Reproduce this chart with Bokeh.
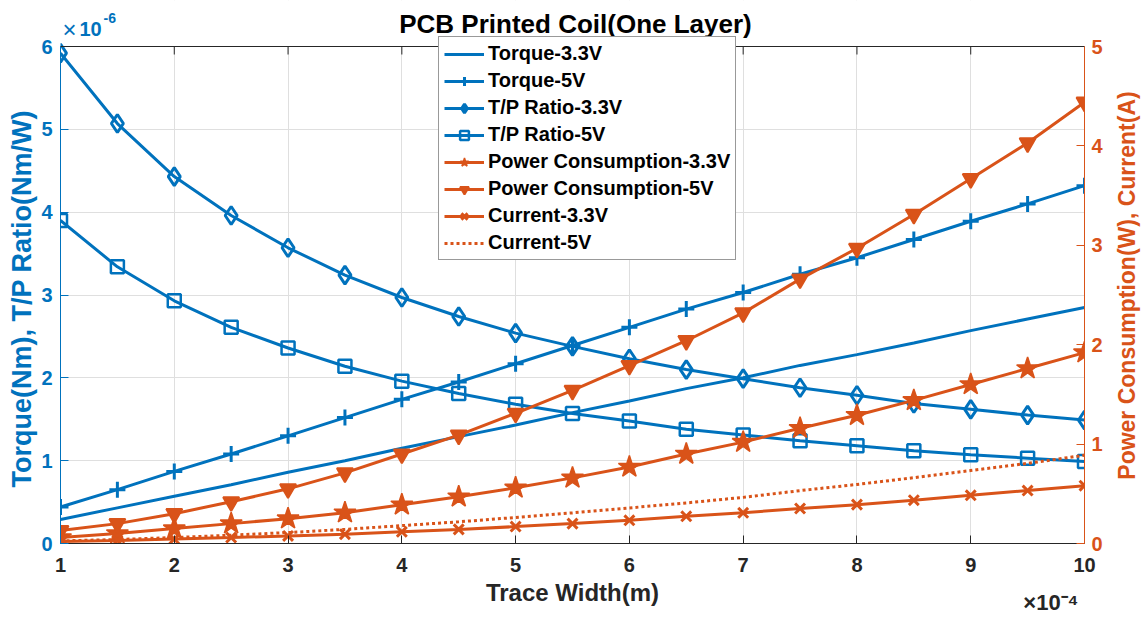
import math
from bokeh.plotting import figure
from bokeh.models import (Range1d, LinearAxis, Label, FixedTicker, Legend, LegendItem, ColumnDataSource,
                          Span, BoxAnnotation, Title)
from bokeh.embed import file_html
from bokeh.resources import INLINE

# Trace width (x 1e-4 m)
trace_width = [1.0, 1.5, 2.0, 2.5, 3.0, 3.5, 4.0, 4.5, 5.0, 5.5, 6.0, 6.5, 7.0, 7.5, 8.0, 8.5, 9.0, 9.5, 10.0]
# Left axis series (x 1e-6)
torque_33 = [0.29, 0.43, 0.57, 0.71, 0.86, 1.00, 1.15, 1.29, 1.43, 1.58, 1.72, 1.87, 2.00, 2.15, 2.28, 2.42, 2.57, 2.71, 2.85]
torque_5 = [0.44, 0.65, 0.87, 1.08, 1.30, 1.52, 1.74, 1.95, 2.17, 2.39, 2.61, 2.83, 3.03, 3.25, 3.45, 3.67, 3.89, 4.10, 4.32]
tp_ratio_33 = [5.92, 5.07, 4.43, 3.96, 3.57, 3.24, 2.97, 2.74, 2.54, 2.38, 2.23, 2.10, 1.99, 1.88, 1.79, 1.69, 1.62, 1.55, 1.49]
tp_ratio_5 = [3.90, 3.34, 2.93, 2.61, 2.36, 2.14, 1.96, 1.81, 1.68, 1.57, 1.48, 1.38, 1.31, 1.24, 1.18, 1.12, 1.07, 1.03, 0.99]
# Right axis series (W, A)
power_33 = [0.06, 0.10, 0.15, 0.20, 0.25, 0.31, 0.39, 0.47, 0.56, 0.66, 0.77, 0.90, 1.02, 1.16, 1.29, 1.44, 1.60, 1.76, 1.92]
power_5 = [0.13, 0.20, 0.30, 0.42, 0.55, 0.71, 0.90, 1.09, 1.31, 1.54, 1.79, 2.04, 2.32, 2.66, 2.97, 3.31, 3.67, 4.03, 4.44]
current_33 = [0.02, 0.03, 0.045, 0.06, 0.076, 0.094, 0.118, 0.142, 0.17, 0.20, 0.233, 0.273, 0.309, 0.352, 0.391, 0.436, 0.485, 0.533, 0.582]
current_5 = [0.026, 0.04, 0.06, 0.084, 0.11, 0.142, 0.18, 0.218, 0.262, 0.308, 0.358, 0.408, 0.464, 0.532, 0.594, 0.662, 0.734, 0.806, 0.888]

x_ticks = [1, 2, 3, 4, 5, 6, 7, 8, 9, 10]
left_ticks = [0, 1, 2, 3, 4, 5, 6]
right_ticks = [0, 1, 2, 3, 4, 5]
LEFT_MAX = 6
RIGHT_MAX = 5

BLUE = "#0072BD"
ORANGE = "#D95319"
DARK = "#262626"
FONT = "Liberation Sans"

# layout: frame spans from canvas top to axis bottom; data area starts TOP_PAD px below frame top
W, H = 1142, 618
BORDER_L, BORDER_R, BORDER_B = 60, 58, 75
TOP_PAD = 46
frame_h = H - BORDER_B
data_h = frame_h - TOP_PAD
left_end = LEFT_MAX * frame_h / data_h
right_end = RIGHT_MAX * frame_h / data_h

src = ColumnDataSource(dict(x=trace_width, t33=torque_33, t5=torque_5, r33=tp_ratio_33, r5=tp_ratio_5,
                            p33=power_33, p5=power_5, c33=current_33, c5=current_5))

p = figure(width=W, height=H, output_backend="svg", toolbar_location=None,
           x_range=Range1d(1, 10), y_range=Range1d(0, left_end),
           min_border_left=BORDER_L, min_border_right=BORDER_R, min_border_top=0, min_border_bottom=BORDER_B,
           background_fill_color="white", border_fill_color="white")
p.outline_line_color = None
p.extra_y_ranges = {"right": Range1d(0, right_end)}

# grid
p.xgrid.ticker = FixedTicker(ticks=x_ticks)
p.ygrid.ticker = FixedTicker(ticks=left_ticks)
p.xgrid.grid_line_color = "#dfdfdf"
p.ygrid.grid_line_color = "#dfdfdf"
# blank out the area above the axes box
p.add_layout(BoxAnnotation(bottom=LEFT_MAX, fill_color="white", fill_alpha=1, line_alpha=0, level="underlay"))

def style_axis(ax, color, ticks, size="20px", label_size="20px"):
    ax.ticker = FixedTicker(ticks=ticks)
    ax.axis_line_color = color
    ax.major_tick_line_color = color
    ax.major_tick_in = 8
    ax.major_tick_out = 0
    ax.minor_tick_line_color = None
    ax.major_label_text_color = color
    ax.major_label_text_font = FONT
    ax.major_label_text_font_style = "bold"
    ax.major_label_text_font_size = size
    ax.axis_label_text_color = color
    ax.axis_label_text_font = FONT
    ax.axis_label_text_font_style = "bold"
    ax.axis_label_text_font_size = label_size

# bottom
xa = p.xaxis[0]
style_axis(xa, DARK, x_ticks, label_size="24px")
xa.axis_label = "Trace Width(m)"
xa.major_label_standoff = 14
xa.axis_label_standoff = 4
# left
ya = p.yaxis[0]
style_axis(ya, BLUE, left_ticks)
ya.bounds = (0, LEFT_MAX)
ya.major_label_standoff = 8
p.add_layout(Title(text="Torque(Nm), T/P Ratio(Nm/W)", align="left", offset=56, standoff=4,
                   text_font=FONT, text_font_style="bold", text_font_size="27px", text_color=BLUE), "left")
# right
ra = LinearAxis(y_range_name="right")
style_axis(ra, ORANGE, right_ticks)
ra.bounds = (0, RIGHT_MAX)
ra.major_label_standoff = 7
p.add_layout(ra, "right")
p.add_layout(Label(x=21, y=frame_h - 285, x_units="screen", y_units="screen", angle=math.pi / 2,
                   text="Power Consumption(W), Current(A)", text_align="center", text_baseline="middle",
                   text_font=FONT, text_font_style="bold", text_font_size="23px", text_color=ORANGE), "right")

# top border of the axes box with inward ticks
p.add_layout(Span(location=LEFT_MAX, dimension="width", line_color=DARK, line_width=1))
tick_len = 8 * left_end / frame_h
p.segment(x0=x_ticks, y0=[LEFT_MAX] * len(x_ticks), x1=x_ticks, y1=[LEFT_MAX - tick_len] * len(x_ticks),
          line_color=DARK, line_width=1)

LW = 3
items = []
r = p.line("x", "t33", source=src, color=BLUE, line_width=LW)
items.append(LegendItem(label="Torque-3.3V", renderers=[r]))

r1 = p.line("x", "t5", source=src, color=BLUE, line_width=LW)
r2 = p.scatter("x", "t5", source=src, marker="cross", size=16, line_color=BLUE, line_width=3)
items.append(LegendItem(label="Torque-5V", renderers=[r1, r2]))

r1 = p.line("x", "r33", source=src, color=BLUE, line_width=LW)
r2 = p.scatter("x", "r33", source=src, marker="diamond", size=18, line_color=BLUE, fill_alpha=0, line_width=3)
items.append(LegendItem(label="T/P Ratio-3.3V", renderers=[r1, r2]))

r1 = p.line("x", "r5", source=src, color=BLUE, line_width=LW)
r2 = p.scatter("x", "r5", source=src, marker="square", size=13, line_color=BLUE, fill_alpha=0, line_width=2.5)
items.append(LegendItem(label="T/P Ratio-5V", renderers=[r1, r2]))

r1 = p.line("x", "p33", source=src, color=ORANGE, line_width=LW, y_range_name="right")
r2 = p.scatter("x", "p33", source=src, marker="star", size=23, line_color=ORANGE, fill_color=ORANGE, line_width=1.5, y_range_name="right")
items.append(LegendItem(label="Power Consumption-3.3V", renderers=[r1, r2]))

r1 = p.line("x", "p5", source=src, color=ORANGE, line_width=LW, y_range_name="right")
r2 = p.scatter("x", "p5", source=src, marker="inverted_triangle", size=16, line_color=ORANGE, fill_color=ORANGE, line_width=2, y_range_name="right")
items.append(LegendItem(label="Power Consumption-5V", renderers=[r1, r2]))

r1 = p.line("x", "c33", source=src, color=ORANGE, line_width=LW, y_range_name="right")
r2 = p.scatter("x", "c33", source=src, marker="x", size=14, line_color=ORANGE, line_width=3, y_range_name="right")
items.append(LegendItem(label="Current-3.3V", renderers=[r1, r2]))

r1 = p.line("x", "c5", source=src, color=ORANGE, line_width=LW, line_dash="3 3", y_range_name="right")
items.append(LegendItem(label="Current-5V", renderers=[r1]))

legend = Legend(items=items, location=(378, 283))
legend.label_text_font = FONT
legend.label_text_font_style = "bold"
legend.label_text_font_size = "20px"
legend.label_text_color = "black"
legend.glyph_width = 40
legend.glyph_height = 22
legend.label_height = 22
legend.spacing = 4
legend.label_standoff = 4
legend.padding = 5
legend.margin = 0
legend.border_line_color = "#333333"
legend.border_line_width = 1
legend.background_fill_color = "white"
legend.background_fill_alpha = 1
p.add_layout(legend)

# title (inside the frame's top strip)
p.add_layout(Label(x=515, y=frame_h - 23, x_units="screen", y_units="screen", text="PCB Printed Coil(One Layer)",
                   text_align="center", text_baseline="alphabetic", text_font=FONT, text_font_style="bold",
                   text_font_size="26px", text_color="black"))
# left axis multiplier
p.add_layout(Label(x=2, y=frame_h - 29, x_units="screen", y_units="screen", text="×", text_font=FONT,
                   text_font_size="24px", text_color=BLUE, text_baseline="alphabetic"))
p.add_layout(Label(x=19, y=frame_h - 28, x_units="screen", y_units="screen", text="10", text_font=FONT,
                   text_font_style="bold", text_font_size="20px", text_color=BLUE, text_baseline="alphabetic"))
p.add_layout(Label(x=43, y=frame_h - 17, x_units="screen", y_units="screen", text="-6", text_font=FONT,
                   text_font_style="bold", text_font_size="14px", text_color=BLUE, text_baseline="alphabetic"))
# bottom axis multiplier
p.add_layout(Title(text="×10⁻⁴", align="right", offset=6, standoff=-38, vertical_align="top", text_font=FONT,
                   text_font_style="bold", text_font_size="22px", text_color=DARK), "below")

open("out.html", "w").write(file_html(p, INLINE))
